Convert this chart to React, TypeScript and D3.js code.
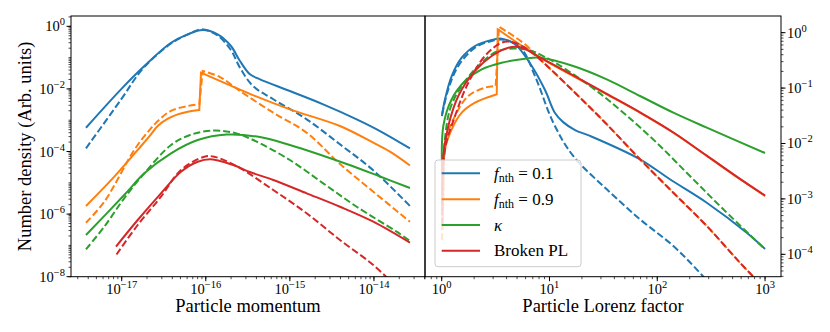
import React from 'react';
import * as d3 from 'd3';

type Pt = [number, number];

// ---- left panel: number density vs particle momentum ----
const pBlueSolid: Pt[] = [
  [3.76e-18, 5.75e-4], [9.8e-18, 9.7e-3], [1.86e-17, 0.0539], [3.86e-17, 0.299], [6.09e-17, 0.555],
  [9.19e-17, 0.762], [1.385e-16, 0.555], [1.99e-16, 0.235], [2.55e-16, 0.0779], [3.35e-16, 0.0293],
  [4.41e-16, 0.0203], [1.0e-15, 8.57e-3], [2.49e-15, 3.22e-3], [6.23e-15, 1.07e-3], [1.18e-14, 4.52e-4],
  [2.68e-14, 1.26e-4],
];
const pBlueDash: Pt[] = [
  [3.76e-18, 1.26e-4], [9.8e-18, 4.55e-3], [1.79e-17, 0.0449], [3.86e-17, 0.282], [6.09e-17, 0.547],
  [8.94e-17, 0.8], [1.385e-16, 0.508], [1.99e-16, 0.175], [2.55e-16, 0.0476], [3.64e-16, 0.0124],
  [6.29e-16, 4.76e-3], [1.585e-15, 1.07e-3], [3.94e-15, 1.7e-4], [9.73e-15, 2.56e-5], [2.68e-14, 1.81e-6],
];
const pOrangeSolidLow: Pt[] = [
  [3.76e-18, 1.81e-6], [8.17e-18, 1.57e-5], [1.7e-17, 1.5e-4], [2.18e-17, 3.3e-4], [2.68e-17, 6.53e-4],
  [3.5e-17, 1.1e-3], [4.63e-17, 1.54e-3], [6.3e-17, 1.9e-3], [8.37e-17, 2.12e-3],
];
const pOrangeSolidHigh: Pt[] = [
  [8.77e-17, 0.033], [3.45e-16, 6.72e-3], [1.0e-15, 2.23e-3], [3.94e-15, 6.53e-4], [9.82e-15, 1.91e-4],
  [1.55e-14, 9.86e-5], [2.68e-14, 3.57e-5],
];
const pOrangeDashLow: Pt[] = [
  [3.76e-18, 5.31e-7], [6.21e-18, 2.49e-6], [1.41e-17, 1.12e-4], [2.1e-17, 4.6e-4], [2.85e-17, 1.09e-3],
  [3.86e-17, 2.0e-3], [6.09e-17, 2.84e-3], [8.37e-17, 3.22e-3],
];
const pOrangeDashHigh: Pt[] = [
  [9.19e-17, 0.0373], [1.475e-16, 0.024], [2.55e-16, 8.57e-3], [6.35e-16, 1.74e-3], [1.585e-15, 3.99e-4],
  [3.94e-15, 4.0e-5], [9.82e-15, 5.2e-6], [2.68e-14, 5.71e-7],
];
const pGreenSolid: Pt[] = [
  [3.76e-18, 2.15e-7], [1.07e-17, 4.07e-6], [1.857e-17, 2.01e-5], [3.86e-17, 8.75e-5], [8.01e-17, 2.33e-4],
  [1.77e-16, 3.49e-4], [4.41e-16, 2.9e-4], [1.0e-15, 1.61e-4], [4.73e-15, 3.99e-5], [1.18e-14, 1.59e-5],
  [2.68e-14, 6.82e-6],
];
const pGreenDash: Pt[] = [
  [3.76e-18, 7.5e-8], [6.21e-18, 3.96e-7], [1.07e-17, 3.2e-6], [1.857e-17, 2.01e-5], [3.86e-17, 1.61e-4],
  [6.49e-17, 3.37e-4], [1.23e-16, 4.69e-4], [2.22e-16, 3.9e-4], [3.67e-16, 2.33e-4], [1.0e-15, 5.35e-5],
  [2.49e-15, 9.64e-6], [6.23e-15, 1.72e-6], [1.86e-14, 2.74e-7], [2.68e-14, 1.38e-7],
];
const pRedSolid: Pt[] = [
  [8.55e-18, 9.2e-8], [1.55e-17, 6.48e-7], [2.93e-17, 4.62e-6], [5.07e-17, 2.26e-5], [8.01e-17, 4.72e-5],
  [1.153e-16, 5.64e-5], [2.12e-16, 3.7e-5], [3.35e-16, 2.21e-5], [6.35e-16, 1.23e-5], [1.585e-15, 4.62e-6],
  [3.94e-15, 1.72e-6], [9.82e-15, 5.71e-7], [2.68e-14, 1.22e-7],
];
const pRedDash: Pt[] = [
  [8.67e-18, 5.12e-8], [1.55e-17, 4.49e-7], [2.93e-17, 3.6e-6], [5.07e-17, 2.56e-5], [9.6e-17, 6.82e-5],
  [1.26e-16, 6.82e-5], [2.39e-16, 3.27e-5], [6.35e-16, 5.89e-6], [1.585e-15, 1.06e-6], [3.94e-15, 1.49e-7],
  [9.82e-15, 2.37e-8], [2.04e-14, 3.76e-9], [2.68e-14, 2.09e-9],
];

// ---- right panel: number density vs Lorentz factor ----
const gBlueSolid: Pt[] = [
  [1.004, 0.0313], [1.073, 0.0628], [1.238, 0.165], [1.533, 0.354], [2.037, 0.575], [2.91, 0.738],
  [3.6, 0.779], [4.79, 0.617], [6.84, 0.251], [9.09, 0.0924], [11.25, 0.0355], [13.4, 0.0243],
  [17.26, 0.0175], [23.8, 0.0137], [69.2, 5.19e-3], [131, 2.26e-3], [288, 8.54e-4], [676, 2.45e-4],
  [1000, 1.25e-4],
];
const gBlueDash: Pt[] = [
  [1.01, 0.0337], [1.151, 0.095], [1.426, 0.251], [2.037, 0.536], [2.91, 0.708], [3.87, 0.738],
  [5.53, 0.501], [7.34, 0.165], [10.85, 0.0237], [16.6, 5.95e-3], [34, 1.49e-3], [69.2, 4.28e-4],
  [141, 1.41e-4], [267, 3.97e-5], [1000, 2.0e-6],
];
const gOrangeSolidLow: Pt[] = [
  [1.01, 2.75e-4], [1.039, 2.19e-3], [1.073, 7.86e-3], [1.238, 0.018], [1.533, 0.036], [2.037, 0.0545],
  [2.91, 0.072], [3.24, 0.0773],
];
const gOrangeSolidHigh: Pt[] = [
  [3.31, 1.152], [5.93, 0.53], [8.17, 0.354], [16.6, 0.165], [34, 0.0773], [69.2, 0.036], [141, 0.0157],
  [288, 5.95e-3], [586, 2.26e-3], [1000, 1.13e-3],
];
const gOrangeDashLow: Pt[] = [
  [1.006, 1.81e-4], [1.039, 1.18e-3], [1.073, 0.0103], [1.329, 0.0313], [1.765, 0.072], [2.52, 0.1017],
  [3.17, 0.109],
];
const gOrangeDashHigh: Pt[] = [
  [3.4, 1.283], [5.93, 0.617], [8.17, 0.331], [16.6, 0.0887], [34, 0.0222], [69.2, 5.19e-3], [141, 1.29e-3],
  [288, 3.24e-4], [586, 7.05e-5], [1000, 2.37e-5],
];
const gGreenSolid: Pt[] = [
  [1.01, 2.7e-3], [1.035, 0.0207], [1.238, 0.0628], [1.645, 0.134], [2.35, 0.218], [3.6, 0.287],
  [5.93, 0.34], [8.17, 0.354], [16.6, 0.251], [34, 0.144], [69.2, 0.072], [141, 0.036], [288, 0.0193],
  [1000, 6.74e-3],
];
const gGreenDash: Pt[] = [
  [1.01, 1.45e-3], [1.05, 7.86e-3], [1.194, 0.0414], [1.533, 0.109], [2.186, 0.251], [3.35, 0.468],
  [5.93, 0.501], [9.09, 0.364], [23.8, 0.109], [48.4, 0.036], [98.9, 0.0103], [201, 2.59e-3],
  [410, 6.49e-4], [1000, 1.23e-4],
];
const gRedSolid: Pt[] = [
  [1.013, 6.3e-4], [1.035, 5.95e-3], [1.151, 0.0207], [1.426, 0.072], [2.037, 0.204], [2.91, 0.38],
  [4.15, 0.536], [5.53, 0.536], [8.17, 0.357], [16.6, 0.169], [34, 0.0783], [69.2, 0.0364], [141, 0.0158],
  [288, 6.03e-3], [586, 2.3e-3], [1000, 1.15e-3],
];
const gRedDash: Pt[] = [
  [1.013, 3.38e-4], [1.073, 7.86e-3], [1.329, 0.0313], [1.765, 0.125], [2.52, 0.38], [3.6, 0.66],
  [4.46, 0.679], [5.93, 0.536], [8.17, 0.328], [16.6, 0.0887], [34, 0.0222], [69.2, 5.19e-3],
  [141, 1.29e-3], [288, 3.24e-4], [586, 7.05e-5], [1000, 2.37e-5],
];

const legendLabels = ['f_nth = 0.1', 'f_nth = 0.9', 'kappa', 'Broken PL'];
const colors = ['#1f77b4', '#ff7f0e', '#2ca02c', '#d62728'];

const momTicks = [-17, -16, -15, -14];
const momDensTicks = [0, -2, -4, -6, -8];
const lorTicks = [0, 1, 2, 3];
const lorDensTicks = [0, -1, -2, -3, -4];

// layout
const top = 16, bottom = 276.7;
const L = { x0: 71, x1: 425 };
const R = { x0: 425, x1: 781 };
const serif = { fontFamily: '"Liberation Serif", "Times New Roman", Times, "DejaVu Serif", serif' };

const xMom = d3.scaleLog().domain([Math.pow(10, -17.603), Math.pow(10, -13.393)]).range([L.x0, L.x1]);
const yMom = d3.scaleLog().domain([1e-8, Math.pow(10, 0.33)]).range([bottom, top]);
const xLor = d3.scaleLog().domain([Math.pow(10, -0.155), Math.pow(10, 3.148)]).range([R.x0, R.x1]);
const yLor = d3.scaleLog().domain([Math.pow(10, -4.404), Math.pow(10, 0.301)]).range([bottom, top]);

const leftSeries = [
  { parts: [pBlueSolid], c: 0, dash: false },
  { parts: [pBlueDash], c: 0, dash: true },
  { parts: [pOrangeSolidLow, pOrangeSolidHigh], c: 1, dash: false },
  { parts: [pOrangeDashLow, pOrangeDashHigh], c: 1, dash: true },
  { parts: [pGreenSolid], c: 2, dash: false },
  { parts: [pGreenDash], c: 2, dash: true },
  { parts: [pRedSolid], c: 3, dash: false },
  { parts: [pRedDash], c: 3, dash: true },
];
const rightSeries = [
  { parts: [gBlueSolid], c: 0, dash: false },
  { parts: [gBlueDash], c: 0, dash: true },
  { parts: [gOrangeSolidLow, gOrangeSolidHigh], c: 1, dash: false },
  { parts: [gOrangeDashLow, gOrangeDashHigh], c: 1, dash: true },
  { parts: [gGreenSolid], c: 2, dash: false },
  { parts: [gGreenDash], c: 2, dash: true },
  { parts: [gRedSolid], c: 3, dash: false },
  { parts: [gRedDash], c: 3, dash: true },
];

// each part is smoothed on its own; parts are joined by straight jumps
function makePath(parts: Pt[][], x: any, y: any) {
  const gen = d3.line<Pt>().x(d => x(d[0])).y(d => y(d[1])).curve(d3.curveCatmullRom.alpha(0.5));
  return parts.map((p, i) => {
    const s = gen(p) || '';
    return i === 0 ? s : 'L' + s.slice(1);
  }).join('');
}

function minorTicks(scale: any) {
  const [a, b] = scale.domain();
  const out: number[] = [];
  for (let e = Math.floor(Math.log10(a)); e <= Math.ceil(Math.log10(b)); e++) {
    for (let k = 1; k < 10; k++) {
      const v = k * Math.pow(10, e);
      if (v >= a && v <= b) out.push(v);
    }
  }
  return out;
}

const expText = (e: number) => (e < 0 ? '\u2212' + (-e) : String(e));

function Pow({ x, y, e, anchor }: { x: number; y: number; e: number; anchor: string }) {
  return (
    <text x={x} y={y} textAnchor={anchor as any} fontSize={14.5} style={serif} fill="#000">
      10<tspan dy={-6} fontSize={10.5}>{expText(e)}</tspan>
    </text>
  );
}

function LegendLabel({ i, x, y }: { i: number; x: number; y: number }) {
  const lab = legendLabels[i];
  if (lab.startsWith('f_nth')) {
    return (
      <text x={x} y={y} fontSize={17} style={serif}>
        <tspan fontStyle="italic">f</tspan>
        <tspan dy={3} fontSize={12}>nth</tspan>
        <tspan dy={-3}>{lab.replace('f_nth', '')}</tspan>
      </text>
    );
  }
  if (lab === 'kappa') {
    return <text x={x} y={y} fontSize={17} style={serif} fontStyle="italic">{'\u03BA'}</text>;
  }
  return <text x={x} y={y} fontSize={17} style={serif}>{lab}</text>;
}

export default function App() {
  const lMinorX = minorTicks(xMom);
  const lMinorY = minorTicks(yMom);
  const rMinorX = minorTicks(xLor);
  const rMinorY = minorTicks(yLor);
  const legendRows = [173.3, 199.3, 225, 250.7];

  return (
    <div>
      <style>{'body{margin:0}'}</style>
      <svg width={830} height={332} style={{ display: 'block', background: '#fff' }}>
        <defs>
          <clipPath id="clipL"><rect x={L.x0} y={top} width={L.x1 - L.x0} height={bottom - top} /></clipPath>
          <clipPath id="clipR"><rect x={R.x0} y={top} width={R.x1 - R.x0} height={bottom - top} /></clipPath>
        </defs>

        {/* curves */}
        <g clipPath="url(#clipL)" fill="none">
          {leftSeries.map((s, i) => (
            <path key={i} d={makePath(s.parts, xMom, yMom)} stroke={colors[s.c]} strokeWidth={2}
              strokeDasharray={s.dash ? '7,3' : undefined} />
          ))}
        </g>
        <g clipPath="url(#clipR)" fill="none">
          {rightSeries.map((s, i) => (
            <path key={i} d={makePath(s.parts, xLor, yLor)} stroke={colors[s.c]} strokeWidth={2}
              strokeDasharray={s.dash ? '7,3' : undefined} />
          ))}
        </g>

        {/* ticks */}
        <g stroke="#000">
          {lMinorX.map((v, i) => <line key={'lmx' + i} x1={xMom(v)} x2={xMom(v)} y1={bottom} y2={bottom + 2.5} strokeWidth={0.7} />)}
          {momTicks.map(e => <line key={'lx' + e} x1={xMom(Math.pow(10, e))} x2={xMom(Math.pow(10, e))} y1={bottom} y2={bottom + 4.5} strokeWidth={1} />)}
          {lMinorY.map((v, i) => <line key={'lmy' + i} x1={L.x0 - 2.5} x2={L.x0} y1={yMom(v)} y2={yMom(v)} strokeWidth={0.7} />)}
          {momDensTicks.map(e => <line key={'ly' + e} x1={L.x0 - 4.5} x2={L.x0} y1={yMom(Math.pow(10, e))} y2={yMom(Math.pow(10, e))} strokeWidth={1} />)}
          {rMinorX.map((v, i) => <line key={'rmx' + i} x1={xLor(v)} x2={xLor(v)} y1={bottom} y2={bottom + 2.5} strokeWidth={0.7} />)}
          {lorTicks.map(e => <line key={'rx' + e} x1={xLor(Math.pow(10, e))} x2={xLor(Math.pow(10, e))} y1={bottom} y2={bottom + 4.5} strokeWidth={1} />)}
          {rMinorY.map((v, i) => <line key={'rmy' + i} x1={R.x1} x2={R.x1 + 2.5} y1={yLor(v)} y2={yLor(v)} strokeWidth={0.7} />)}
          {lorDensTicks.map(e => <line key={'ry' + e} x1={R.x1} x2={R.x1 + 4.5} y1={yLor(Math.pow(10, e))} y2={yLor(Math.pow(10, e))} strokeWidth={1} />)}
        </g>

        {/* tick labels */}
        {momTicks.map(e => <Pow key={'tx' + e} x={xMom(Math.pow(10, e))} y={294} e={e} anchor="middle" />)}
        {momDensTicks.map(e => <Pow key={'ty' + e} x={L.x0 - 6} y={yMom(Math.pow(10, e)) + 5} e={e} anchor="end" />)}
        {lorTicks.map(e => <Pow key={'rtx' + e} x={xLor(Math.pow(10, e))} y={294} e={e} anchor="middle" />)}
        {lorDensTicks.map(e => <Pow key={'rty' + e} x={R.x1 + 6} y={yLor(Math.pow(10, e)) + 5} e={e} anchor="start" />)}

        {/* frames */}
        <rect x={L.x0} y={top} width={L.x1 - L.x0} height={bottom - top} fill="none" stroke="#000" strokeWidth={1} />
        <rect x={R.x0} y={top} width={R.x1 - R.x0} height={bottom - top} fill="none" stroke="#000" strokeWidth={1} />

        {/* axis labels */}
        <text x={(L.x0 + L.x1) / 2} y={312} textAnchor="middle" fontSize={18.5} style={serif}>Particle momentum</text>
        <text x={(R.x0 + R.x1) / 2} y={312} textAnchor="middle" fontSize={18.5} style={serif}>Particle Lorenz factor</text>
        <text transform={`translate(25,${(top + bottom) / 2}) rotate(-90)`} textAnchor="middle" fontSize={18.5}
          style={serif} dy={6}>Number density (Arb. units)</text>

        {/* legend */}
        <rect x={435} y={160} width={146} height={106.7} rx={3} fill="#fff" fillOpacity={0.8} stroke="#cccccc" strokeWidth={1} />
        {legendRows.map((ry, i) => (
          <g key={'lg' + i}>
            <line x1={441.7} x2={480} y1={ry} y2={ry} stroke={colors[i]} strokeWidth={2} />
            <LegendLabel i={i} x={494} y={ry + 5.5} />
          </g>
        ))}
      </svg>
    </div>
  );
}
